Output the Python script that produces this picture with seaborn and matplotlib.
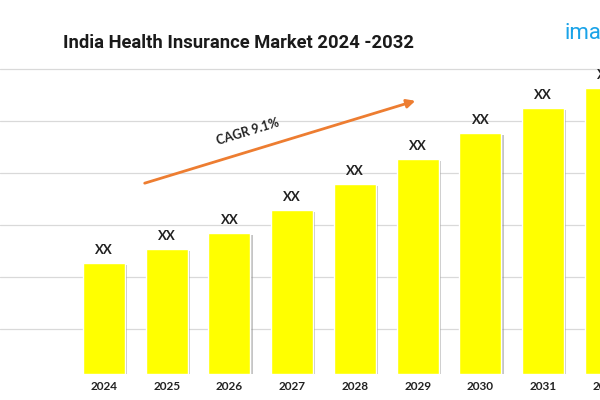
import matplotlib
matplotlib.use("Agg")
import matplotlib.pyplot as plt
import matplotlib.patheffects as pe
import seaborn as sns
import pandas as pd

# market size (relative units)
years = ["2024", "2025", "2026", "2027", "2028", "2029", "2030", "2031", "2032"]
market_size = [111, 125, 141, 164, 190, 215, 241, 266, 286]
bar_labels = ["XX"] * len(years)
grid_values = [45, 97, 149, 201, 253, 305]
cagr_text = "CAGR 9.1%"

sns.set_theme(style="white")
plt.rcParams['font.family'] = ['Lato', 'DejaVu Sans']

df = pd.DataFrame({'Year': years, 'Size': market_size})

fig = plt.figure(figsize=(6, 4), dpi=100)
# axes runs past the right edge, so the last bar is cut like in the original
ax = fig.add_axes([0.0, 0.065, 1.1, 0.785])

sns.barplot(data=df, x='Year', y='Size', order=years, color='#FFFF00',
            saturation=1, width=0.67, ax=ax, zorder=3)

for bar in ax.patches:
    bar.set_path_effects([pe.SimplePatchShadow(offset=(1.5, -1.5), shadow_rgbFace='#808080', alpha=0.45),
                          pe.Normal()])

ax.bar_label(ax.containers[0], labels=bar_labels, padding=5, fontsize=9.5,
             fontweight='bold', color='#222222')

ax.set_xlim(-1.657, 8.861)
ax.set_ylim(0, 314)
ax.set_yticks(grid_values)
ax.yaxis.grid(True, color='#D9D9D9', linewidth=0.9, zorder=0)
ax.set_yticklabels([])
ax.set_xlabel("")
ax.set_ylabel("")
ax.tick_params(axis='both', length=0)
ax.tick_params(axis='x', pad=5, labelsize=8.5, labelcolor='#222222')
for lbl in ax.get_xticklabels():
    lbl.set_fontweight('bold')
sns.despine(ax=ax, left=True, bottom=True)

# title and logo
fig.text(0.397, 0.893, "India Health Insurance Market 2024 -2032", ha='center', va='center',
         fontsize=13.2, fontweight='bold', family=['Roboto', 'DejaVu Sans'], color='#1a1a1a')
fig.text(0.940, 0.917, "imarc", ha='left', va='center', fontsize=16,
         family=['Roboto', 'DejaVu Sans'], color='#1AA3E8')

# CAGR arrow
fig.patches.append(matplotlib.patches.FancyArrowPatch(
    (0.2367, 0.54), (0.6967, 0.75), transform=fig.transFigure,
    arrowstyle='-|>,head_length=5,head_width=2.5', color='#ED7D31', lw=2, zorder=5))
fig.text(0.413, 0.67, cagr_text, ha='center', va='center', rotation=17,
         fontsize=9, fontweight='bold', color='#222222')

plt.savefig("out.png", dpi=100)
